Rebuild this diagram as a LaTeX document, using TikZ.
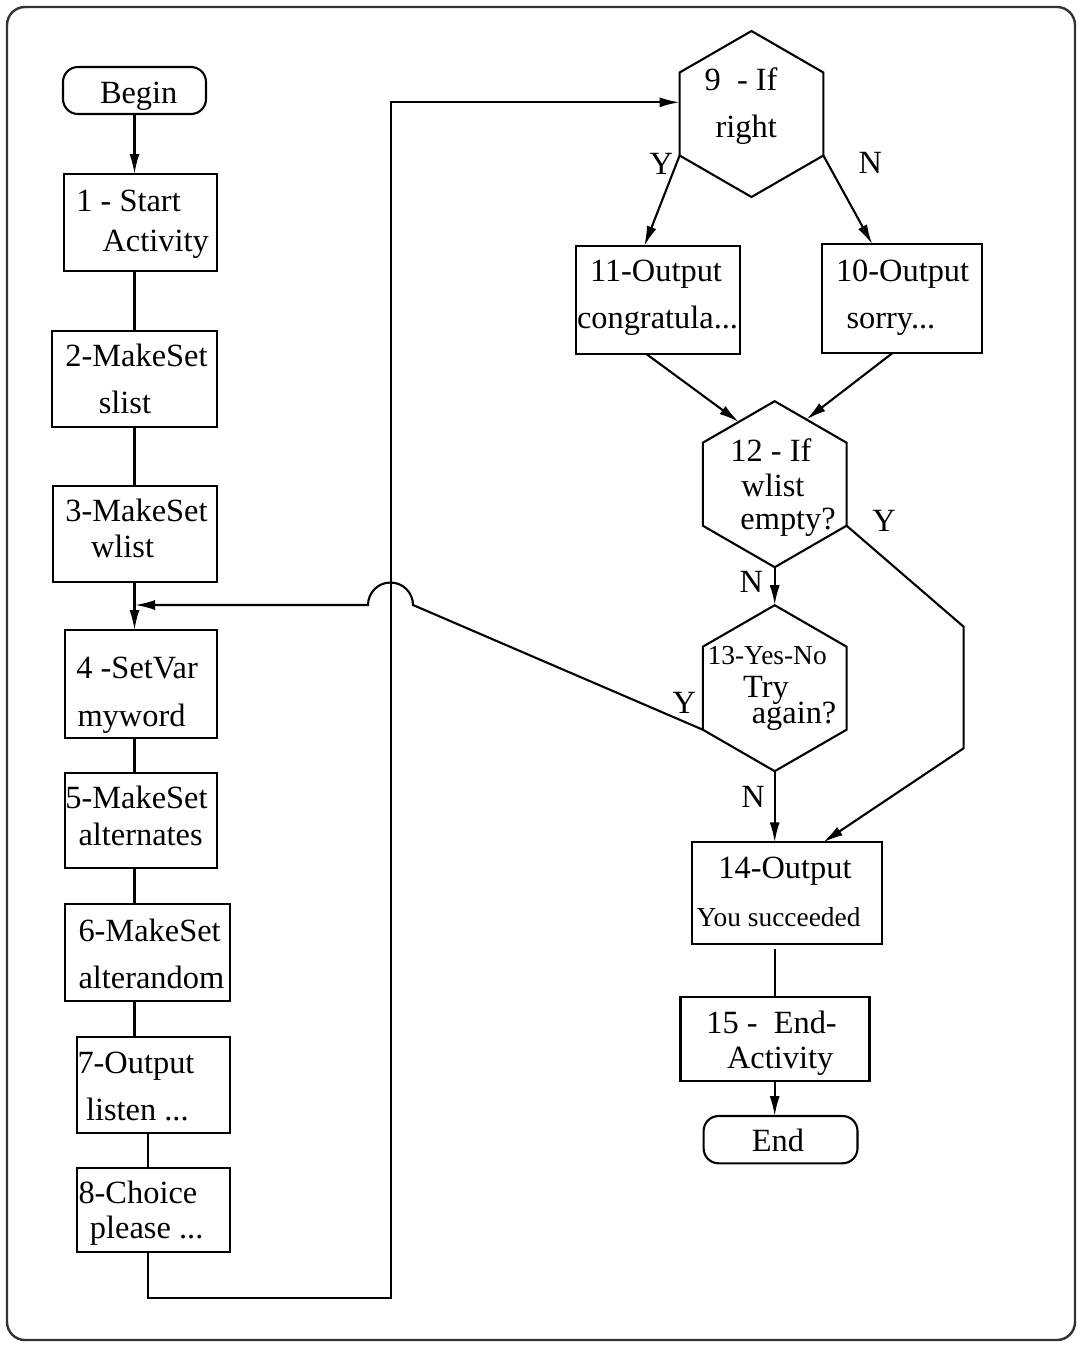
\documentclass[tikz,border=0pt]{standalone}
\usepackage{fontspec}
\setmainfont{Liberation Serif}
\usetikzlibrary{shapes.geometric,fit,calc,arrows.meta}

\begin{document}
\begin{tikzpicture}[x=0.5pt,y=-0.5pt,
  every node/.style={inner sep=0pt, outer sep=0pt},
  stepbox/.style={draw, rectangle, line width=1.05pt},
  term/.style={draw, rectangle, rounded corners=7.5pt, line width=1.05pt},
  hexa/.style={draw, regular polygon, regular polygon sides=6,
    shape border rotate=30, minimum size=83pt, line width=1.05pt},
  txt/.style={anchor=base west, font=\fontsize{16.2}{19}\selectfont},
  sm/.style={anchor=base west, font=\fontsize{13.7}{16}\selectfont},
  ln/.style={line width=1.05pt},
  arr/.style={line width=1.05pt, -{Latex[length=10pt,width=5pt]}},
]
\useasboundingbox (0,0) rectangle (1080,1345);
\fill[white] (0,0) rectangle (1080,1345);

% outer frame
\draw[line width=1.2pt, black!80, rounded corners=9pt] (7,7) rectangle (1075,1340);

% left column
\node[term, fit={(63,67) (206,114)}] (nb) {};
\node[stepbox, fit={(64,174) (217,271)}] (b1) {};
\node[stepbox, fit={(52.3,331) (217.3,427)}] (b2) {};
\node[stepbox, fit={(52.7,486) (217.3,582)}] (b3) {};
\node[stepbox, fit={(65.4,630) (217.3,738)}] (b4) {};
\node[stepbox, fit={(65.4,773) (217.3,868)}] (b5) {};
\node[stepbox, fit={(65.4,904) (229.7,1001)}] (b6) {};
\node[stepbox, fit={(76.8,1037) (229.7,1133)}] (b7) {};
\node[stepbox, fit={(76.8,1168) (229.7,1252)}] (b8) {};

% right column
\node[hexa] (h9) at (751.5,114) {};
\node[stepbox, fit={(576.2,246) (740.4,354.3)}] (b11) {};
\node[stepbox, fit={(821.7,244.3) (981.8,352.7)}] (b10) {};
\node[hexa] (h12) at (774.7,484.2) {};
\node[hexa] (h13) at (774.7,688.2) {};
\node[stepbox, fit={(692.2,842.3) (882,944)}] (b14) {};
\node[stepbox, fit={(680.5,997.3) (869.5,1080.7)}] (b15) {};
\node[term, fit={(703.6,1116) (857.5,1163.3)}] (ne) {};

% routing points
\coordinate (lp1) at (148,1298);
\coordinate (lp2) at (391,1298);
\coordinate (lp3) at (391,102.3);
\coordinate (hp) at (413,605);
\coordinate (fbj) at (135,605);
\coordinate (y1) at (963.6,626.7);
\coordinate (y2) at (963.6,748.3);

% left column connectors
\draw[arr] (nb.south) -- (nb.south |- b1.north);
\draw[ln] (nb.south |- b1.south) -- (nb.south |- b2.north);
\draw[ln] (nb.south |- b2.south) -- (nb.south |- b3.north);
\draw[arr] (nb.south |- b3.south) -- (nb.south |- b4.north);
\draw[ln] (nb.south |- b4.south) -- (nb.south |- b5.north);
\draw[ln] (nb.south |- b5.south) -- (nb.south |- b6.north);
\draw[ln] (nb.south |- b6.south) -- (nb.south |- b7.north);
\draw[ln] (lp1 |- b7.south) -- (lp1 |- b8.north);

% loop from the choice to the first test
\draw[arr] (lp1 |- b8.south) -- (lp1) -- (lp2) -- (lp3) -- (lp3 -| h9.180);

% branches of test 9
\draw[arr] (h9.210) -- ($(b11.north)+(-14,0)$);
\draw[arr] (h9.330) -- ($(b10.north)+(-29.5,0)$);
\draw[arr] ($(b11.south)+(-11.5,0)$) -- (h12.120);
\draw[arr] ($(b10.south)+(-8.8,0)$) -- (h12.64);

% tests 12 and 13
\draw[arr] (h12.270) -- (h13.90);
\draw[arr] (h12.330) -- (y1) -- (y2) -- ($(b14.north)!0.38!(b14.north east)$);
\draw[arr] (h13.210) -- (hp) arc[start angle=0, end angle=-180, radius=22.5] -- (fbj);
\draw[arr] (h13.270) -- (h13.270 |- b14.north);
\draw[ln, shorten <=2.5pt] (h13.270 |- b14.south) -- (h13.270 |- b15.north);
\draw[arr] (h13.270 |- b15.south) -- (h13.270 |- ne.north);

% texts, left column
\node[txt] (tb) at (100,103) {Begin};
\node[txt] (t1a) at (76.4,211) {1 - Start};
\node[txt] (t1b) at (102.6,251) {Activity};
\node[txt] (t2a) at (65.4,366) {2-MakeSet};
\node[txt] (t2b) at (98.8,413) {slist};
\node[txt] (t3a) at (65.4,521.7) {3-MakeSet};
\node[txt] (t3b) at (91,557.7) {wlist};
\node[txt] (t4a) at (76.4,678) {4 -SetVar};
\node[txt] (t4b) at (77.5,726) {myword};
\node[txt] (t5a) at (65.4,808) {5-MakeSet};
\node[txt] (t5b) at (78.5,845) {alternates};
\node[txt] (t6a) at (78.5,941) {6-MakeSet};
\node[txt] (t6b) at (78.5,988) {alterandom};
\node[txt] (t7a) at (77.5,1073) {7-Output};
\node[txt] (t7b) at (86,1120) {listen ...};
\node[txt] (t8a) at (78.5,1203) {8-Choice};
\node[txt] (t8b) at (90,1238) {please ...};

% texts, right column
\node[txt] (t9a) at (704.6,90) {9\ \ - If};
\node[txt] (t9b) at (715.6,137) {right};
\node[txt] (l9y) at (649.5,174) {Y};
\node[txt] (l9n) at (858.5,173) {N};
\node[txt] (t11a) at (590,281.7) {11-Output};
\node[txt] (t11b) at (577,328.3) {congratula...};
\node[txt] (t10a) at (836,281) {10-Output};
\node[txt] (t10b) at (846.5,328.3) {sorry...};
\node[txt] (t12a) at (730.4,461) {12 - If};
\node[txt] (t12b) at (741.4,496) {wlist};
\node[txt] (t12c) at (740.4,529.3) {empty?};
\node[txt] (l12y) at (872.3,531) {Y};
\node[txt] (l12n) at (739.7,592) {N};
\node[sm] (t13a) at (707.7,664) {13-Yes-No};
\node[txt] (t13b) at (743.2,697) {Try};
\node[txt] (t13c) at (751.8,723) {again?};
\node[txt] (l13y) at (672.6,713) {Y};
\node[txt] (l13n) at (741.4,807) {N};
\node[txt] (t14a) at (718.4,878.3) {14-Output};
\node[sm] (t14b) at (696.7,926) {You succeeded};
\node[txt] (t15a) at (706.3,1033.3) {15 -\ \ End-};
\node[txt] (t15b) at (727,1068.3) {Activity};
\node[txt] (te) at (751.8,1151.7) {End};
\end{tikzpicture}
\end{document}
